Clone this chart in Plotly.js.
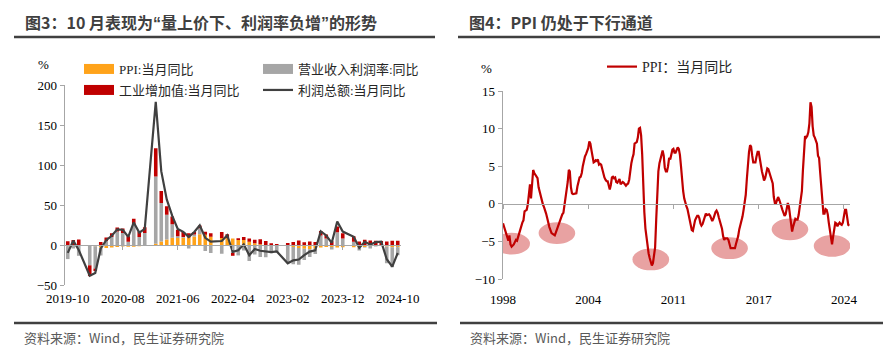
<!DOCTYPE html>
<html><head><meta charset="utf-8">
<script src="https://cdn.plot.ly/plotly-3.0.1.min.js"></script>
<style>html,body{margin:0;padding:0;background:#fff;}#chart{width:892px;height:357px;}</style>
</head><body><div id="chart"></div>
<script>
// ================= Left panel data (2019-10 .. 2024-10, monthly; January merged -> null) =================
const leftStart = [2019, 10], leftCount = 61;
const tickLabelsLeft = ['2019-10','2020-08','2021-06','2022-04','2023-02','2023-12','2024-10'];
// PPI: 当月同比 (orange)
const ppiBar = [-1.6,-1.4,-0.5,null,-0.4,-1.5,-3.1,-3.7,-3.0,-2.4,-2.0,-2.1,-2.1,-1.5,-0.4,
  null,1.7,4.4,6.8,9.0,8.8,9.0,9.5,10.7,13.5,12.9,10.3,
  null,8.8,8.3,8.0,6.4,6.1,4.2,2.3,0.9,-1.3,-1.3,-0.7,
  null,-1.4,-2.5,-3.6,-4.6,-5.4,-4.4,-3.0,-2.5,-2.6,-3.0,-2.7,
  null,-2.7,-2.8,-2.5,-1.4,-0.8,-0.8,-1.8,-2.8,-2.9];
// 营业收入利润率: 同比 (gray)
const marginBar = [-16,-3,-13,null,-25,-28,-10,5,10,17,15,4,26,10,15,
  null,84,48,31,17,2,1,-4.5,2.5,7.5,-7.5,-10,
  null,-11,-1,-10,-13,-7,-20,-12,-15,-14,-9,-8.5,
  null,-21.5,-21.5,-21,-14,-9.5,-7,12,8,-3,16,8,
  null,4,-4,-0.5,-3,-1,-0.5,-21,-25,-10];
// 工业增加值: 当月同比 (red)
const ipBar = [4.7,6.2,6.9,null,-13.5,-3,3.9,4.4,4.8,4.8,5.6,6.9,6.9,7.0,7.3,
  null,35.1,15,10.5,9.5,8.3,6.4,5.3,3.1,3.5,3.8,4.3,
  null,7.5,5.0,-3.5,2.0,3.9,3.8,4.2,6.3,5.0,2.2,1.3,
  null,2.4,3.9,5.6,3.5,4.4,3.7,5.5,5.0,4.6,7.0,6.8,
  null,7.0,4.5,6.7,5.6,5.3,5.1,4.5,5.4,5.3];
// 利润总额: 当月同比 (line)
const profitLine = [-9.9,5.4,-6.3,null,-38.3,-34.9,-4.3,6.0,11.5,19.6,19.1,10.1,28.2,15.5,20.1,
  null,178.9,92.3,57.0,36.4,20.0,16.4,10.1,16.3,24.6,9.0,4.2,
  null,5.0,12.2,-8.5,-6.5,0.8,-12.8,-5.0,-7.2,-8.5,-8.9,-8.0,
  null,-22.9,-19.2,-18.2,-12.6,-8.3,-6.7,17.2,11.9,2.7,29.5,16.8,
  null,10.2,-3.5,4.0,0.7,3.6,4.1,-17.8,-27.1,-10.0];

// ================= Right panel data: PPI 当月同比, 1998-01 .. 2024-10 =================
const ppi1998 = [-2.6,-3.1,-3.6,-4.0,-4.5,-4.9,-4.2,-5.4,-5.7,-5.6,-5.4,-5.1];
const ppi1999 = [-4.8,-4.9,-4.4,-3.8,-3.5,-3.1,-2.5,-2.2,-1.0,-0.9,-0.8,-0.1];
const ppi2000 = [1.4,2.6,0.7,2.6,4.5,4.1,3.8,3.6,3.4,2.2,1.5,1.0];
const ppi2001 = [0.2,-0.1,-0.4,-0.8,-1.3,-1.9,-2.6,-3.1,-3.5,-3.9,-4.0,-4.1];
const ppi2002 = [-4.2,-3.8,-3.4,-3.0,-2.5,-2.0,-1.7,-1.4,-1.2,-0.3,0.6,1.5];
const ppi2003 = [2.9,4.5,4.3,2.2,1.4,1.3,1.3,1.3,1.4,2.3,3.0,3.5];
const ppi2004 = [3.6,4.1,5.0,6.0,6.3,6.6,7.0,7.4,8.3,8.0,7.1,6.0];
const ppi2005 = [5.5,5.6,5.8,5.7,5.9,5.2,5.3,5.2,4.5,4.0,3.5,3.2];
const ppi2006 = [3.0,3.0,2.5,1.9,2.5,3.5,3.6,3.4,3.5,2.9,2.8,3.1];
const ppi2007 = [3.3,2.6,2.7,2.9,2.8,2.5,2.4,2.6,2.7,3.2,4.6,5.4];
const ppi2008 = [6.1,6.6,8.0,8.1,8.2,8.8,10.0,10.1,9.1,6.6,2.0,-1.1];
const ppi2009 = [-3.3,-4.5,-6.0,-6.6,-7.2,-7.8,-8.2,-7.9,-7.0,-5.8,-2.1,1.7];
const ppi2010 = [4.3,5.4,5.9,6.8,7.1,6.4,4.8,4.3,4.3,5.0,6.1,5.9];
const ppi2011 = [6.6,7.2,7.3,6.8,6.8,7.1,7.5,7.3,6.5,5.0,2.7,1.7];
const ppi2012 = [0.7,0.0,-0.3,-0.7,-1.4,-2.1,-2.9,-3.5,-3.6,-2.8,-2.2,-1.9];
const ppi2013 = [-1.6,-1.6,-1.9,-2.6,-2.9,-2.7,-2.3,-1.6,-1.3,-1.5,-1.4,-1.4];
const ppi2014 = [-1.6,-2.0,-2.3,-2.0,-1.4,-1.1,-0.9,-1.2,-1.8,-2.2,-2.7,-3.3];
const ppi2015 = [-4.3,-4.8,-4.6,-4.6,-4.6,-4.8,-5.4,-5.9,-5.9,-5.9,-5.9,-5.9];
const ppi2016 = [-5.3,-4.9,-4.3,-3.4,-2.8,-2.6,-1.7,-0.8,0.1,1.2,3.3,5.5];
const ppi2017 = [6.9,7.8,7.6,6.4,5.5,5.5,5.5,6.3,6.9,6.9,5.8,4.9];
const ppi2018 = [4.3,3.7,3.1,3.4,4.1,4.7,4.6,4.1,3.6,3.3,2.7,0.9];
const ppi2019 = [0.1,0.1,0.4,0.9,0.6,0.0,-0.3,-0.8,-1.2,-1.6,-1.4,-0.5];
const ppi2020 = [0.1,-0.4,-1.5,-3.1,-3.7,-3.0,-2.4,-2.0,-2.1,-2.1,-1.5,-0.4];
const ppi2021 = [0.3,1.7,4.4,6.8,9.0,8.8,9.0,9.5,10.7,13.5,12.9,10.3];
const ppi2022 = [9.1,8.8,8.3,8.0,6.4,6.1,4.2,2.3,0.9,-1.3,-1.3,-0.7];
const ppi2023 = [-0.8,-1.4,-2.5,-3.6,-4.6,-5.4,-4.4,-3.0,-2.5,-2.6,-3.0,-2.7];
const ppi2024 = [-2.5,-2.7,-2.8,-2.5,-1.4,-0.8,-0.8,-1.8,-2.8,-2.9];
const rightStart = [1998, 1];
const tickDatesRight = ['1998-01-01','2004-08-01','2011-03-01','2017-10-01','2024-05-01'];
const tickLabelsRight = ['1998','2004','2011','2017','2024'];
// highlighted troughs (ellipse centres)
const troughMonths = ['1998-09','2002-03','2009-06','2015-07','2020-03','2023-06'];
const troughLevels = [-5.3,-3.9,-7.4,-5.9,-3.4,-5.6];

// ================= build =================
function ym(y, m, add) { const t = y*12 + (m-1) + add; return [Math.floor(t/12), t%12 + 1]; }
function pad(n){ return (n<10?'0':'') + n; }
const months = [];
for (let i = 0; i < leftCount; i++) { const [y,m] = ym(leftStart[0], leftStart[1], i); months.push(y + '-' + pad(m)); }
const ppiSeries = [].concat(ppi1998,ppi1999,ppi2000,ppi2001,ppi2002,ppi2003,ppi2004,ppi2005,ppi2006,ppi2007,
  ppi2008,ppi2009,ppi2010,ppi2011,ppi2012,ppi2013,ppi2014,ppi2015,ppi2016,ppi2017,ppi2018,ppi2019,ppi2020,
  ppi2021,ppi2022,ppi2023,ppi2024);
const ppiDates = ppiSeries.map((_, i) => { const [y,m] = ym(rightStart[0], rightStart[1], i); return y + '-' + pad(m) + '-01'; });

const W = 892, H = 357;
const px = v => v / W, py = v => 1 - v / H;
const domLx = [px(65), px(400.5)], domLy = [py(285), py(85)];
const domRx = [px(503), px(850)], domRy = [py(279), py(91)];
const rangeL = [-50, 200], rangeR = [-10, 15];
const zeroL = domLy[0] + (0 - rangeL[0]) / (rangeL[1] - rangeL[0]) * (domLy[1] - domLy[0]);
const zeroR = domRy[0] + (0 - rangeR[0]) / (rangeR[1] - rangeR[0]) * (domRy[1] - domRy[0]);

const serif = '"Liberation Serif", "Times New Roman", "Noto Sans CJK SC", serif';
const sans = '"Noto Sans CJK SC", "Noto Sans", sans-serif';
const axisGray = '#a6a6a6';
const cOrange = '#ffa31a', cGray = '#a6a6a6', cRed = '#c00000', cLine = '#404040';

const nulls = months.map(() => null);
const traces = [
  {type:'bar', x: months, y: ppiBar, xaxis:'x', yaxis:'y', marker:{color:cOrange}, showlegend:false, hoverinfo:'skip'},
  {type:'bar', x: months, y: marginBar, xaxis:'x', yaxis:'y', marker:{color:cGray}, showlegend:false, hoverinfo:'skip'},
  {type:'bar', x: months, y: ipBar, xaxis:'x', yaxis:'y', marker:{color:cRed}, showlegend:false, hoverinfo:'skip'},
  {type:'scatter', mode:'lines', x: months, y: profitLine, xaxis:'x', yaxis:'y', connectgaps:true,
   line:{color:cLine, width:2.2}, showlegend:false, hoverinfo:'skip'},
  // legend entries
  {type:'scatter', mode:'lines', x:[null], y:[null], xaxis:'x', yaxis:'y', name:'PPI:当月同比', line:{color:cOrange, width:10}, legend:'legend'},
  {type:'scatter', mode:'lines', x:[null], y:[null], xaxis:'x', yaxis:'y', name:'营业收入利润率:同比', line:{color:cGray, width:10}, legend:'legend'},
  {type:'scatter', mode:'lines', x:[null], y:[null], xaxis:'x', yaxis:'y', name:'工业增加值:当月同比', line:{color:cRed, width:10}, legend:'legend3'},
  {type:'scatter', mode:'lines', x:[null], y:[null], xaxis:'x', yaxis:'y', name:'利润总额:当月同比', line:{color:cLine, width:2.2}, legend:'legend3'},
  // label-axis carrier (left)
  {type:'scatter', mode:'lines', x: months, y: nulls, xaxis:'x2', yaxis:'y', showlegend:false, hoverinfo:'skip'},
  // right
  {type:'scatter', mode:'lines', x: ppiDates, y: ppiSeries, xaxis:'x3', yaxis:'y2', name:'PPI：当月同比',
   line:{color:cRed, width:2.2}, legend:'legend2', hoverinfo:'skip'},
  {type:'scatter', mode:'lines', x: ppiDates, y: ppiDates.map(() => null), xaxis:'x4', yaxis:'y2', showlegend:false, hoverinfo:'skip'}
];

function shiftMonth(s, add){ const [y,m] = s.split('-').map(Number); const [yy,mm] = ym(y,m,add); return yy + '-' + pad(mm) + '-01'; }
const ellipses = troughMonths.map((mo, i) => ({
  type:'circle', xref:'x3', yref:'y2', layer:'below',
  x0: shiftMonth(mo, -17), x1: shiftMonth(mo, 17),
  y0: troughLevels[i] - 1.45, y1: troughLevels[i] + 1.45,
  fillcolor:'#e8a2a2', line:{width:0}
}));

const q = s => '<span style="font-family:\'Liberation Sans\'">' + s + '</span>';
const tickFont = {family: serif, size: 13, color:'#000'};
const legendFont = {family: serif, size:13, color:'#262626'};
const layout = {
  width: W, height: H, margin:{l:0, r:0, t:0, b:0},
  paper_bgcolor:'#fff', plot_bgcolor:'rgba(0,0,0,0)',
  barmode:'relative', bargap:0.35, showlegend:true,
  xaxis:{type:'category', categoryorder:'array', categoryarray: months, range:[-0.5, leftCount-0.5],
    domain: domLx, anchor:'free', position: zeroL, showline:true, linecolor: axisGray, linewidth:1.3,
    ticks:'outside', ticklen:4, tickcolor: axisGray, tickmode:'linear', tick0:0, dtick:10,
    showticklabels:false, showgrid:false, zeroline:false, fixedrange:true},
  xaxis2:{type:'category', categoryorder:'array', categoryarray: months, range:[-0.5, leftCount-0.5],
    overlaying:'x', anchor:'y', side:'bottom', showline:false, ticks:'', tickmode:'array',
    tickvals: tickLabelsLeft, ticktext: tickLabelsLeft, tickfont: tickFont, ticklabelstandoff:4,
    showgrid:false, zeroline:false, fixedrange:true},
  yaxis:{domain: domLy, range: rangeL, anchor:'x', tickmode:'linear', tick0:-50, dtick:50,
    showline:true, linecolor: axisGray, linewidth:1.3, ticks:'outside', ticklen:4, tickcolor: axisGray,
    tickfont: tickFont, showgrid:false, zeroline:false, fixedrange:true},
  xaxis3:{type:'date', domain: domRx, anchor:'free', position: zeroR, range:['1998-01-01','2024-10-20'],
    showline:true, linecolor: axisGray, linewidth:1.3, ticks:'outside', ticklen:4, tickcolor: axisGray,
    tickmode:'array', tickvals: tickDatesRight, showticklabels:false, showgrid:false, zeroline:false, fixedrange:true},
  xaxis4:{type:'date', overlaying:'x3', anchor:'y2', side:'bottom', range:['1998-01-01','2024-10-20'],
    showline:false, ticks:'', tickmode:'array', tickvals: tickDatesRight, ticktext: tickLabelsRight,
    tickfont: tickFont, ticklabelstandoff:11, showgrid:false, zeroline:false, fixedrange:true},
  yaxis2:{domain: domRy, range: rangeR, anchor:'x3', tickmode:'linear', tick0:-10, dtick:5,
    showline:true, linecolor: axisGray, linewidth:1.3, ticks:'outside', ticklen:4, tickcolor: axisGray,
    tickfont: tickFont, showgrid:false, zeroline:false, fixedrange:true},
  legend:{orientation:'h', x: px(79), xanchor:'left', y: py(69), yanchor:'middle',
    entrywidth:134, entrywidthmode:'pixels', itemwidth:30, bgcolor:'rgba(0,0,0,0)', font: legendFont},
  legend3:{orientation:'h', x: px(79), xanchor:'left', y: py(90), yanchor:'middle',
    entrywidth:134, entrywidthmode:'pixels', itemwidth:30, bgcolor:'rgba(0,0,0,0)', font: legendFont},
  legend2:{orientation:'h', x: px(602), xanchor:'left', y: py(67), yanchor:'middle', itemwidth:30,
    bgcolor:'rgba(0,0,0,0)', font:{family: serif, size:14, color:'#262626'}},
  shapes: [
    {type:'line', xref:'paper', yref:'paper', x0:px(14), x1:px(435), y0:py(37), y1:py(37), line:{color:'#404040', width:2.5}},
    {type:'line', xref:'paper', yref:'paper', x0:px(458), x1:px(880), y0:py(37), y1:py(37), line:{color:'#404040', width:2.5}},
    {type:'line', xref:'paper', yref:'paper', x0:px(14), x1:px(437), y0:py(323), y1:py(323), line:{color:'#404040', width:2.5}},
    {type:'line', xref:'paper', yref:'paper', x0:px(460), x1:px(883), y0:py(323), y1:py(323), line:{color:'#404040', width:2.5}}
  ].concat(ellipses),
  annotations: [
    {xref:'paper', yref:'paper', x:px(23), y:py(22), xanchor:'left', yanchor:'middle', showarrow:false,
     text:'<b>图3：10 月表现为' + q('“') + '量上价下、利润率负增' + q('”') + '的形势</b>', font:{family:sans, size:16, color:'#404040'}},
    {xref:'paper', yref:'paper', x:px(467), y:py(22), xanchor:'left', yanchor:'middle', showarrow:false,
     text:'<b>图4：PPI 仍处于下行通道</b>', font:{family:sans, size:16, color:'#404040'}},
    {xref:'paper', yref:'paper', x:px(43), y:py(64), xanchor:'center', yanchor:'middle', showarrow:false,
     text:'%', font:{family:serif, size:13, color:'#000'}},
    {xref:'paper', yref:'paper', x:px(486), y:py(69), xanchor:'center', yanchor:'middle', showarrow:false,
     text:'%', font:{family:serif, size:13, color:'#000'}},
    {xref:'paper', yref:'paper', x:px(22), y:py(337), xanchor:'left', yanchor:'middle', showarrow:false,
     text:'资料来源：Wind，民生证券研究院', font:{family:sans, size:13, color:'#595959'}},
    {xref:'paper', yref:'paper', x:px(468), y:py(337), xanchor:'left', yanchor:'middle', showarrow:false,
     text:'资料来源：Wind，民生证券研究院', font:{family:sans, size:13, color:'#595959'}}
  ]
};
Plotly.newPlot('chart', traces, layout, {displayModeBar:false, staticPlot:true});
</script></body></html>
